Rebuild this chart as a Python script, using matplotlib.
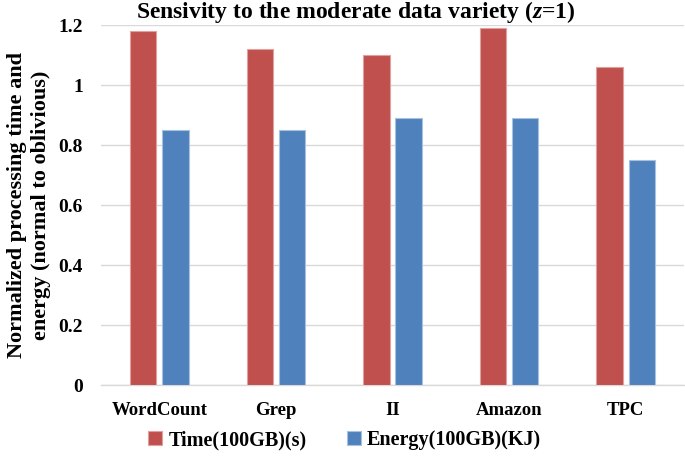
import matplotlib
matplotlib.use('Agg')
import matplotlib.pyplot as plt
import numpy as np

plt.rcParams['font.family'] = ['Liberation Serif', 'DejaVu Serif']
plt.rcParams['font.weight'] = 'bold'
plt.rcParams['mathtext.fontset'] = 'custom'
plt.rcParams['mathtext.it'] = 'Liberation Serif:italic:bold'
plt.rcParams['mathtext.rm'] = 'Liberation Serif:bold'

categories = ['WordCount', 'Grep', 'II', 'Amazon', 'TPC']
time_vals = [1.18, 1.12, 1.10, 1.19, 1.06]
energy_vals = [0.85, 0.85, 0.89, 0.89, 0.75]
y_ticks = [0, 0.2, 0.4, 0.6, 0.8, 1.0, 1.2]
y_tick_labels = ['0', '0.2', '0.4', '0.6', '0.8', '1', '1.2']

RED = '#C0504D'
BLUE = '#4F81BD'

fig = plt.figure(figsize=(6.85, 4.65), dpi=100)
ax = fig.add_axes([101 / 685, 1 - 385 / 465, 583 / 685, 360 / 465])

x = np.arange(len(categories))
w = 0.225
off = 0.138
ax.bar(x - off, time_vals, w, color=RED, edgecolor='#e0a09e', linewidth=0.8,
       label='Time(100GB)(s)', zorder=3)
ax.bar(x + off, energy_vals, w, color=BLUE, edgecolor='#a9c1e0', linewidth=0.8,
       label='Energy(100GB)(KJ)', zorder=3)

ax.set_xlim(-0.5, len(categories) - 0.5)
ax.set_ylim(0, 1.2)
ax.set_yticks(y_ticks)
ax.set_yticklabels(y_tick_labels)
ax.set_xticks(x)
ax.set_xticklabels(categories)
ax.tick_params(axis='both', length=0, labelsize=14)
ax.tick_params(axis='x', labelsize=13.5, pad=12)
ax.tick_params(axis='y', pad=13)
ax.grid(axis='y', color='#d9d9d9', linewidth=1, zorder=0)
for s in ['top', 'right', 'left']:
    ax.spines[s].set_visible(False)
ax.spines['bottom'].set_color('#d9d9d9')
ax.spines['bottom'].set_linewidth(1)

ax.set_title('Sensivity to the moderate data variety ($z$=1)', fontsize=17,
             fontweight='bold', x=0.437, pad=3)
ax.set_ylabel('Normalized processing time and\nenergy (normal to oblivious)',
              fontsize=16, fontweight='bold', linespacing=1.3)
ax.yaxis.set_label_coords(-0.085, 0.5)

fig.legend(loc='center', bbox_to_anchor=(0.503, 1 - 440 / 465), ncol=2,
           frameon=False, fontsize=14.5, handlelength=0.7, handleheight=0.7,
           handletextpad=0.3, columnspacing=2.0)

fig.savefig('out.png', dpi=100)
